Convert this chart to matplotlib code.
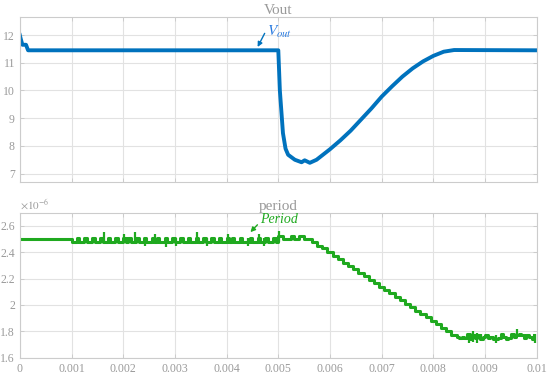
import numpy as np
import matplotlib.pyplot as plt
from matplotlib.ticker import FuncFormatter

# ---- data ----
t_vout = [0, 0.00002, 0.00005, 0.00012, 0.00016, 0.00500, 0.00503, 0.00509,
          0.00514, 0.00519, 0.00532, 0.00545, 0.00551, 0.00561, 0.00574,
          0.00600, 0.00620, 0.00640, 0.00660, 0.00680, 0.00700, 0.00720,
          0.00740, 0.00760, 0.00780, 0.00800, 0.00820, 0.00840, 0.01000]
vout = [12.0, 11.85, 11.65, 11.65, 11.45, 11.45, 10.0, 8.46,
        7.9, 7.68, 7.5, 7.41, 7.48, 7.39, 7.5,
        7.88, 8.2, 8.55, 8.95, 9.35, 9.78, 10.15,
        10.5, 10.8, 11.05, 11.25, 11.4, 11.46, 11.45]

# period in units of 1e-6 s, one value every 50 us
t_period = np.arange(200) * 0.00005
period_us = [
    # 0 - 0.001
    2.50, 2.50, 2.50, 2.50, 2.50, 2.50, 2.50, 2.50, 2.50, 2.50,
    2.50, 2.50, 2.50, 2.50, 2.50, 2.50, 2.50, 2.50, 2.50, 2.50,
    # 0.001 - 0.002
    2.48, 2.48, 2.51, 2.48, 2.48, 2.51, 2.48, 2.48, 2.51, 2.48,
    2.48, 2.51, 2.48, 2.48, 2.51, 2.48, 2.48, 2.51, 2.48, 2.48,
    # 0.002 - 0.003
    2.51, 2.48, 2.51, 2.48, 2.48, 2.51, 2.48, 2.48, 2.51, 2.48,
    2.48, 2.51, 2.48, 2.51, 2.48, 2.48, 2.51, 2.48, 2.48, 2.51,
    # 0.003 - 0.004
    2.48, 2.48, 2.51, 2.48, 2.48, 2.51, 2.48, 2.48, 2.51, 2.48,
    2.48, 2.51, 2.48, 2.48, 2.51, 2.48, 2.48, 2.51, 2.48, 2.48,
    # 0.004 - 0.005
    2.51, 2.48, 2.51, 2.48, 2.48, 2.51, 2.48, 2.48, 2.48, 2.51,
    2.48, 2.48, 2.51, 2.48, 2.48, 2.51, 2.48, 2.48, 2.51, 2.48,
    # 0.005 - 0.006
    2.52, 2.52, 2.50, 2.50, 2.50, 2.52, 2.50, 2.50, 2.52, 2.52,
    2.50, 2.50, 2.50, 2.48, 2.48, 2.45, 2.45, 2.43, 2.43, 2.40,
    # 0.006 - 0.007
    2.40, 2.374, 2.374, 2.348, 2.348, 2.322, 2.322, 2.296, 2.296, 2.27,
    2.27, 2.244, 2.244, 2.218, 2.218, 2.192, 2.192, 2.166, 2.166, 2.14,
    # 0.007 - 0.008
    2.14, 2.114, 2.114, 2.088, 2.088, 2.062, 2.062, 2.036, 2.036, 2.01,
    2.01, 1.984, 1.984, 1.958, 1.958, 1.932, 1.932, 1.906, 1.906, 1.88,
    # 0.008 - 0.009
    1.88, 1.854, 1.854, 1.828, 1.828, 1.802, 1.802, 1.776, 1.776, 1.76,
    1.75, 1.76, 1.75, 1.78, 1.74, 1.77, 1.75, 1.77, 1.74, 1.76,
    # 0.009 - 0.01
    1.77, 1.75, 1.76, 1.74, 1.74, 1.75, 1.78, 1.76, 1.74, 1.75,
    1.78, 1.76, 1.77, 1.78, 1.77, 1.75, 1.77, 1.76, 1.74, 1.77,
]

# narrow spikes on the period trace (time, low, high), units of 1e-6 s
spike_t = [0.00162, 0.00202, 0.00222, 0.00242, 0.00262, 0.00282, 0.00302,
           0.00342, 0.00362, 0.00402, 0.00442, 0.00462, 0.00472, 0.00502,
           0.00868, 0.00876, 0.00884, 0.00892, 0.00922, 0.00962, 0.00996]
spike_lo = [2.48, 2.48, 2.48, 2.45, 2.48, 2.44, 2.45,
            2.48, 2.45, 2.48, 2.45, 2.48, 2.45, 2.48,
            1.71, 1.72, 1.71, 1.73, 1.71, 1.76, 1.71]
spike_hi = [2.55, 2.54, 2.55, 2.51, 2.54, 2.51, 2.51,
            2.55, 2.51, 2.54, 2.51, 2.54, 2.51, 2.56,
            1.79, 1.80, 1.79, 1.78, 1.77, 1.82, 1.78]

x_ticks = [0, 0.001, 0.002, 0.003, 0.004, 0.005, 0.006, 0.007, 0.008, 0.009, 0.01]
vout_ticks = [7, 8, 9, 10, 11, 12]
period_ticks = [1.6, 1.8, 2.0, 2.2, 2.4, 2.6]

blue = '#0072BD'
green = '#1fa91f'
gray = '#9a9a9a'

plt.rcParams['font.family'] = 'Liberation Serif'
plt.rcParams['mathtext.fontset'] = 'stix'

fig = plt.figure(figsize=(5.5, 3.79), dpi=100)
ax1 = fig.add_axes([0.036, 0.52, 0.94, 0.435])
ax2 = fig.add_axes([0.036, 0.056, 0.94, 0.383])

for ax in (ax1, ax2):
    ax.set_xlim(0, 0.01)
    ax.set_xticks(x_ticks)
    ax.grid(True, color='#e2e2e2', linewidth=0.8)
    ax.set_axisbelow(True)
    ax.tick_params(direction='in', length=3, width=0.6, colors='#c8c8c8',
                   labelcolor=gray, labelsize=8.5, top=True, right=True)
    for s in ax.spines.values():
        s.set_color('#cccccc')
        s.set_linewidth(0.8)

# ---- Vout ----
ax1.plot(t_vout, vout, color=blue, linewidth=2.8)
ax1.set_ylim(6.7, 12.65)
ax1.set_yticks(vout_ticks)
ax1.set_xticklabels([])
ax1.set_title('Vout', color=gray, fontsize=11, pad=2)
ax1.annotate(r'$V_{out}$', xy=(0.00460, 11.57), xytext=(0.00479, 11.82),
             color='#2a7be0', fontsize=11, ha='left', va='bottom',
             arrowprops=dict(arrowstyle='-|>', color=blue, lw=1.0,
                             mutation_scale=7, shrinkA=0, shrinkB=0,
                             relpos=(0.0, 0.75)))

# ---- period ----
ax2.plot(t_period, period_us, color=green, linewidth=2.2, drawstyle='steps-post')
ax2.vlines(spike_t, spike_lo, spike_hi, color=green, linewidth=1.6)
ax2.set_ylim(1.6, 2.7)
ax2.set_yticks(period_ticks)
ax2.yaxis.set_major_formatter(FuncFormatter(lambda v, p: '%g' % round(v, 2)))
ax2.xaxis.set_major_formatter(FuncFormatter(lambda v, p: '%g' % round(v, 4)))
ax2.set_title('period', color=gray, fontsize=11, pad=2)
ax2.text(0.0, 1.005, r'$\times10^{-6}$', transform=ax2.transAxes,
         color=gray, fontsize=8, ha='left', va='bottom')
ax2.annotate('Period', xy=(0.00446, 2.552), xytext=(0.00465, 2.6),
             color=green, fontsize=10, style='italic', ha='left', va='bottom',
             arrowprops=dict(arrowstyle='-|>', color=green, lw=1.0,
                             mutation_scale=7, shrinkA=0, shrinkB=0,
                             relpos=(0.0, 0.3)))

fig.savefig('out.png', dpi=100)
